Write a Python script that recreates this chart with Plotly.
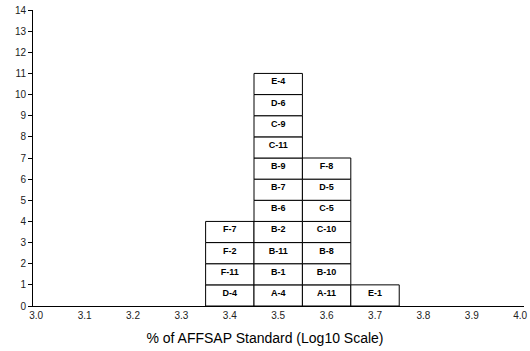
import plotly.graph_objects as go

bin_centers = [3.4, 3.5, 3.6, 3.7]
col_34 = ["D-4", "F-11", "F-2", "F-7"]
col_35 = ["A-4", "B-1", "B-11", "B-2", "B-6", "B-7", "B-9", "C-11", "C-9", "D-6", "E-4"]
col_36 = ["A-11", "B-10", "B-8", "C-10", "C-5", "D-5", "F-8"]
col_37 = ["E-1"]
columns = [col_34, col_35, col_36, col_37]

x_ticks = [3.0, 3.1, 3.2, 3.3, 3.4, 3.5, 3.6, 3.7, 3.8, 3.9, 4.0]
y_ticks = list(range(0, 15))

fig = go.Figure()
for xc, labels in zip(bin_centers, columns):
    n = len(labels)
    fig.add_trace(go.Bar(
        x=[xc] * n,
        y=[1] * n,
        base=list(range(n)),
        width=0.1,
        text=["<b>" + s + "</b>" for s in labels],
        textposition="inside",
        insidetextanchor="end",
        textangle=0,
        textfont=dict(family="Arial, Liberation Sans", size=9, color="black"),
        marker=dict(color="white", line=dict(color="black", width=1)),
        showlegend=False,
        hoverinfo="skip",
    ))

fig.update_layout(
    width=530, height=351,
    margin=dict(l=33, r=2, t=10, b=45),
    paper_bgcolor="white", plot_bgcolor="white",
    barmode="overlay",
    font=dict(family="Arial, Liberation Sans", color="black"),
    title=dict(text="% of AFFSAP Standard (Log10 Scale)", x=0.5, xref="container",
               xanchor="center", y=1 - 338 / 351, yref="container", yanchor="middle",
               font=dict(size=14, color="black")),
    uniformtext=dict(minsize=8, mode="show"),
)
fig.update_xaxes(
    range=[2.9934, 4.0078], tickvals=x_ticks, ticktext=["%.1f" % v for v in x_ticks],
    showgrid=False, zeroline=False, showline=True, linecolor="black", linewidth=1,
    ticks="", tickfont=dict(size=10, color="#222"), ticklabeloverflow="allow",
)
fig.update_yaxes(
    range=[0, 14], tickvals=y_ticks, showgrid=False, zeroline=False,
    showline=True, linecolor="black", linewidth=1,
    ticks="outside", ticklen=4, tickcolor="black", tickfont=dict(size=10, color="#222"),
)
fig.write_html("out.html")
